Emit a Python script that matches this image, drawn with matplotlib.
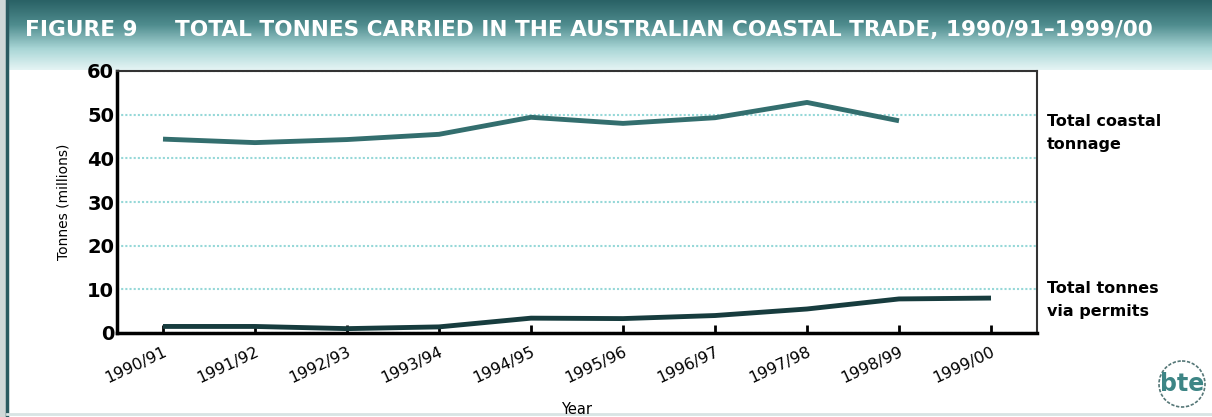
import numpy as np
import matplotlib.pyplot as plt
from matplotlib.colors import LinearSegmentedColormap

years = ["1990/91", "1991/92", "1992/93", "1993/94", "1994/95",
         "1995/96", "1996/97", "1997/98", "1998/99", "1999/00"]
coastal = [44.4, 43.6, 44.3, 45.5, 49.4, 48.0, 49.3, 52.8, 48.6]
permits = [1.5, 1.5, 1.0, 1.4, 3.4, 3.3, 4.0, 5.5, 7.8, 8.0]

fig = plt.figure(figsize=(12.12, 4.17), dpi=100)
fig.patch.set_facecolor("white")

# header banner gradient
bg = fig.add_axes([0, 0, 1, 1], zorder=0)
bg.set_xlim(0, 1212)
bg.set_ylim(417, 0)
bg.axis("off")
cmap = LinearSegmentedColormap.from_list(
    "banner", [(0, "#2a6266"), (0.35, "#4f8c8e"), (0.7, "#a9d6d6"), (1.0, "#e4f4f4")])
grad = np.linspace(0, 1, 70).reshape(-1, 1)
bg.imshow(grad, cmap=cmap, extent=[0, 1212, 70, 0], aspect="auto")
bg.fill_between([0, 5], 0, 417, color="#d0d8d8")
bg.plot([7, 7], [0, 417], color="#2a5a60", lw=2.5)
bg.plot([7, 1212], [414, 414], color="#d8e4e4", lw=2)
bg.text(25, 30, "FIGURE 9     TOTAL TONNES CARRIED IN THE AUSTRALIAN COASTAL TRADE, 1990/91\u20131999/00",
        color="white", fontsize=15.6, fontweight="bold", va="center", ha="left",
        family="DejaVu Sans")

ax = fig.add_axes([117 / 1212, 1 - 333 / 417, 920 / 1212, 262 / 417], zorder=2)
ax.set_facecolor("white")
x = np.arange(len(years))
ax.plot(x[:len(coastal)], coastal, color="#336e6e", lw=3.5, solid_capstyle="butt")
ax.plot(x, permits, color="#173c3e", lw=3.5, solid_capstyle="butt")

ax.set_xlim(-0.5, 9.5)
ax.set_ylim(0, 60)
ax.set_yticks(range(0, 61, 10))
ax.set_xticks(x)
ax.set_xticklabels(years, rotation=25, ha="right", rotation_mode="anchor", fontsize=11.5)
for lbl in ax.get_yticklabels():
    lbl.set_fontsize(14)
    lbl.set_fontweight("bold")
ax.tick_params(axis="x", direction="in", length=6, width=2, color="black", pad=8)
ax.tick_params(axis="y", length=0, pad=2)
ax.yaxis.grid(True, color="#96d8d8", linestyle=(0, (1, 1)), lw=1.5)
ax.set_axisbelow(True)
ax.spines["left"].set_linewidth(2.5)
ax.spines["bottom"].set_linewidth(2.5)
ax.spines["top"].set_linewidth(1.5)
ax.spines["right"].set_linewidth(1.5)
ax.spines["top"].set_color("#333333")
ax.spines["right"].set_color("#333333")

ax.set_ylabel("Tonnes (millions)", fontsize=10, labelpad=12)
ax.set_xlabel("Year", fontsize=10.5, labelpad=12)

fig.text(1047 / 1212, 1 - 133 / 417, "Total coastal\ntonnage", fontsize=11.5,
         fontweight="bold", va="center", ha="left", linespacing=1.6)
fig.text(1047 / 1212, 1 - 300 / 417, "Total tonnes\nvia permits", fontsize=11.5,
         fontweight="bold", va="center", ha="left", linespacing=1.6)

# bte logo
fig.text(1182 / 1212, 1 - 384 / 417, "bte", fontsize=17, fontweight="bold",
         color="#3d8585", ha="center", va="center")
circ = plt.Circle((1182, 384), 23, fill=False, color="#557777", lw=1.2,
                  linestyle=(0, (2, 1)))
bg.add_patch(circ)

fig.savefig("out.png", dpi=100)
